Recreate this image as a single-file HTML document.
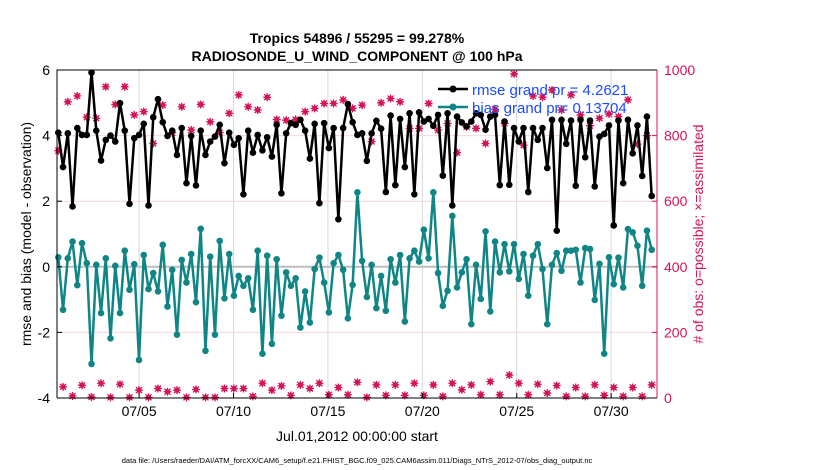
<!DOCTYPE html>
<html><head><meta charset="utf-8"><style>
body{margin:0;background:#fff;}
svg{display:block;font-family:"Liberation Sans",sans-serif;}
</style></head><body>
<svg id="chart" width="830" height="470" viewBox="0 0 830 470">
<text x="357" y="43" text-anchor="middle" font-size="14" font-weight="bold">Tropics 54896 / 55295 = 99.278%</text>
<text x="357" y="61" text-anchor="middle" font-size="14" font-weight="bold">RADIOSONDE_U_WIND_COMPONENT @ 100 hPa</text>
<g id="grid"></g>
<g id="series"></g>
<g id="axes"></g>
<text transform="translate(31,234) rotate(-90)" text-anchor="middle" font-size="14">rmse and bias (model - observation)</text>
<text transform="translate(703,234) rotate(-90)" text-anchor="middle" font-size="14" fill="#d5135a"># of obs: o=possible; ×=assimilated</text>
<text x="357" y="441" text-anchor="middle" font-size="14">Jul.01,2012 00:00:00 start</text>
<text x="357" y="463" text-anchor="middle" font-size="7.5">data file: /Users/raeder/DAI/ATM_forcXX/CAM6_setup/f.e21.FHIST_BGC.f09_025.CAM6assim.011/Diags_NTrS_2012-07/obs_diag_output.nc</text>
<g>
<line x1="438" y1="89" x2="468" y2="89" stroke="#000" stroke-width="2.5"/>
<circle cx="453" cy="89" r="3.5" fill="#000"/>
<text x="472" y="95" font-size="15" fill="#1a4cff">rmse grand pr = 4.2621</text>
<line x1="438" y1="107" x2="468" y2="107" stroke="#108585" stroke-width="2.5"/>
<circle cx="453" cy="107" r="3.5" fill="#108585"/>
<text x="472" y="113" font-size="15" fill="#1a4cff">bias grand pr= 0.13704</text>
</g>
</svg>
<script>
const rmseValues=[4.09,3.04,4.07,1.84,4.23,4.02,4.02,5.92,4.15,3.24,3.87,4.0,3.82,4.99,4.15,1.92,3.92,4.02,4.36,1.87,4.56,5.11,4.41,3.99,4.15,3.41,4.23,2.55,3.99,2.48,4.15,3.41,3.82,
3.97,4.33,3.16,4.09,3.72,3.92,2.21,4.15,3.48,4.02,3.55,3.95,3.36,4.33,2.24,4.07,4.38,4.33,4.48,4.15,3.30,4.36,1.94,4.38,3.62,4.23,1.45,4.23,4.96,4.41,4.02,
4.07,3.23,4.07,4.45,4.21,2.28,4.61,2.49,4.51,3.04,4.68,2.21,4.71,4.43,4.51,4.3,4.63,2.78,4.68,1.87,4.58,4.4,4.28,4.43,4.68,4.63,4.18,4.58,4.63,2.49,4.43,
2.50,4.23,3.82,4.23,2.28,4.23,3.87,4.23,3.01,4.48,1.10,4.48,3.75,4.46,2.47,4.48,3.34,4.46,2.45,3.97,4.05,4.31,1.26,4.46,2.55,4.48,3.46,4.31,2.77,4.58,2.16];
const biasValues=[0.29,-1.31,0.26,0.77,-0.56,0.72,0.11,-2.96,0.06,-1.41,0.26,-2.18,0.03,-1.41,0.49,-0.70,0.08,-2.84,0.36,-0.68,-0.19,-0.75,0.67,-1.21,-0.09,-2.07,0.21,-0.48,0.39,-1.08,1.16,-2.56,0.31,
-2.07,0.79,-0.96,0.39,-0.88,-0.28,-0.58,-0.35,-1.31,0.49,-2.65,0.34,-2.35,0.23,-1.49,-0.17,-0.58,-0.35,-1.85,-0.75,-1.70,-0.07,0.28,-0.48,-1.39,0.11,0.36,-0.09,-1.57,-0.55,2.27,
0.18,-0.92,0.06,-1.26,-0.28,-1.34,0.23,-0.48,0.36,-1.67,0.26,0.49,0.16,1.13,0.26,2.27,-0.19,-1.19,-0.73,1.55,-0.63,-0.17,0.23,-1.75,0.06,-0.98,1.08,-1.36,0.77,-0.17,0.69,
-0.14,0.69,-0.37,0.39,-0.88,0.34,0.69,-0.07,-1.75,0.06,0.42,-0.12,0.49,0.49,0.52,-0.48,0.57,0.54,-1.01,0.09,-2.65,0.29,-0.53,0.28,-0.63,1.15,1.05,0.64,-0.58,1.10,0.52];
const obsTop=[754,903,921,856,853,949,895,949,863,873,776,893,809,888,817,895,842,
809,868,924,888,878,917,849,847,849,873,883,898,898,909,883,
893,782,900,913,903,822,822,898,817,837,748,827,822,776,880,837,
988,771,921,917,939,878,924,863,830,853,866,858,909,774,800];
const obsBottom=[34,6,39,3,45,2,42,2,24,2,29,19,24,2,26,2,
2,29,29,29,5,45,24,37,8,40,29,45,10,32,10,48,2,
40,8,40,8,45,8,40,5,45,25,40,10,50,10,70,45,10,
42,15,38,5,32,5,40,8,32,5,32,5,40];
const leftTicks=[6,4,2,0,-2,-4];
const rightTicks=[1000,800,600,400,200,0];
const xTickDays=[4,9,14,19,24,29];
const xTickLabels=["07/05","07/10","07/15","07/20","07/25","07/30"];

const NS="http://www.w3.org/2000/svg";
const L=57,R=657,T=70,B=398;
const yL=v=>B-(v+4)/10*(B-T);
const yR=v=>B-v/1000*(B-T);
const xDay=d=>63.6+d*18.88;
const n=rmseValues.length;
const xIdx=i=>58.3+i*(651.7-58.3)/(n-1);
function mk(tag,attrs,parent){const e=document.createElementNS(NS,tag);for(const k in attrs)e.setAttribute(k,attrs[k]);parent.appendChild(e);return e;}
const grid=document.getElementById('grid'),ser=document.getElementById('series'),ax=document.getElementById('axes');

xTickDays.forEach((d,i)=>{
  const l=mk('line',{x1:xDay(d),x2:xDay(d),y1:T,y2:B,stroke:'#d8d8d8','stroke-width':1},grid);
  
  
  const t=mk('text',{x:xDay(d),y:416,'text-anchor':'middle','font-size':14},ax);
  t.textContent=xTickLabels[i];
  
  
  mk('line',{x1:xDay(d),x2:xDay(d),y1:B,y2:B-5,stroke:'#000'},ax);
});
leftTicks.forEach(v=>{
  if(v!==0&&v!==6&&v!==-4){const g=mk('line',{x1:L,x2:R,y1:yL(v),y2:yL(v),stroke:'#f2d6e0','stroke-width':1},grid);
  
  }
  const t=mk('text',{x:50,y:yL(v)+5,'text-anchor':'end','font-size':14},ax);
  t.textContent=v;
  
  
  mk('line',{x1:L,x2:L+5,y1:yL(v),y2:yL(v),stroke:'#000'},ax);
});
rightTicks.forEach(v=>{
  const t=mk('text',{x:664,y:yR(v)+5,'font-size':14,fill:'#d5135a'},ax);
  t.textContent=v;
  
  
  mk('line',{x1:R,x2:R-5,y1:yR(v),y2:yR(v),stroke:'#d5135a'},ax);
});
const zl=mk('line',{x1:L,x2:R,y1:yL(0),y2:yL(0),stroke:'#bdbdbd','stroke-width':2},grid);



function obsMarker(x,y){
  const g=mk('g',{},ser);
  
  
  mk('circle',{cx:x,cy:y,r:2.6,fill:'#d5135a'},g);
  mk('path',{d:`M${x-3},${y-3}L${x+3},${y+3}M${x-3},${y+3}L${x+3},${y-3}M${x},${y-4}V${y+4}M${x-4},${y}H${x+4}`,stroke:'#d5135a','stroke-width':1.3},g);
}
obsTop.forEach((v,k)=>{const i=2*k;if(i<n)obsMarker(xIdx(i),yR(v));});
obsBottom.forEach((v,k)=>{const i=2*k+1;if(i<n)obsMarker(xIdx(i),yR(v));});

function line(vals,color,name){
  const p=mk('polyline',{points:vals.map((v,i)=>xIdx(i)+','+yL(v)).join(' '),fill:'none',stroke:color,'stroke-width':2.5,'stroke-linejoin':'round'},ser);
  
  
  vals.forEach((v,i)=>{const c=mk('circle',{cx:xIdx(i),cy:yL(v),r:3.3,fill:color},ser);
    
    });
}
line(biasValues,'#108585','bias');
line(rmseValues,'#000','rmse');

mk('path',{d:`M${L},${B}V${T}H${R}`,fill:'none',stroke:'#000','stroke-width':1},ax);
mk('line',{x1:L,x2:R,y1:B,y2:B,stroke:'#000'},ax);
mk('line',{x1:R,x2:R,y1:T,y2:B,stroke:'#d5135a'},ax);
</script>
</body></html>
